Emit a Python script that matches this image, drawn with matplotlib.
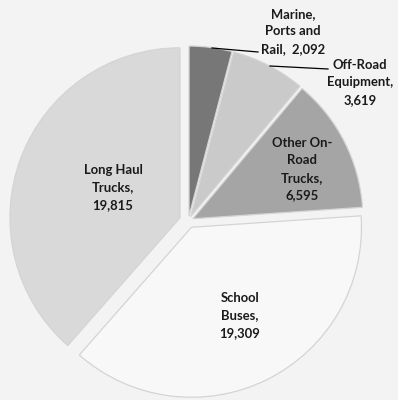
import matplotlib
matplotlib.use("Agg")
import matplotlib.pyplot as plt

categories = ["Marine, Ports and Rail", "Off-Road Equipment", "Other On-Road Trucks",
              "School Buses", "Long Haul Trucks"]
values = [2092, 3619, 6595, 19309, 19815]
label_lines = [["Marine,", "Ports and", "Rail,  {v}"],
               ["Off-Road", "Equipment,", "{v}"],
               ["Other On-", "Road", "Trucks,", "{v}"],
               ["School", "Buses,", "{v}"],
               ["Long Haul", "Trucks,", "{v}"]]
colors = ["#777777", "#cacaca", "#a5a5a5", "#f8f8f8", "#d9d9d9"]
explode = [5, 5, 5, 7, 9]  # offsets in pixels

W, H = 398, 400
fig = plt.figure(figsize=(W / 100, H / 100), dpi=100)
fig.patch.set_facecolor("#f3f3f3")
ax = fig.add_axes([0, 0, 1, 1])
ax.set_facecolor("#f3f3f3")

cx, cy, r = 188.4, 221, 170
wedges, _ = ax.pie(values, colors=colors, startangle=-90, counterclock=True,
                   explode=explode, center=(cx, cy), radius=r, frame=True,
                   wedgeprops=dict(edgecolor="#d4d4d4", linewidth=0.9))
ax.set_xlim(0, W)
ax.set_ylim(H, 0)
ax.set_aspect("equal")
ax.axis("off")

label_pos = [(293, 14), (360, 65), (302, 143), (240, 298), (113, 170)]
lh = 17.3
for lines, v, (x, y) in zip(label_lines, values, label_pos):
    for i, ln in enumerate(lines):
        ax.text(x, y + i * lh, ln.format(v=f"{v:,}"), ha="center", va="center",
                fontsize=9.4, fontweight="bold", family="Lato", color="#1a1a1a")

ax.plot([212, 258], [48, 52], color="black", lw=0.9)
ax.plot([270, 328], [66, 69], color="black", lw=0.9)

fig.savefig("out.png", dpi=100, facecolor=fig.get_facecolor())
